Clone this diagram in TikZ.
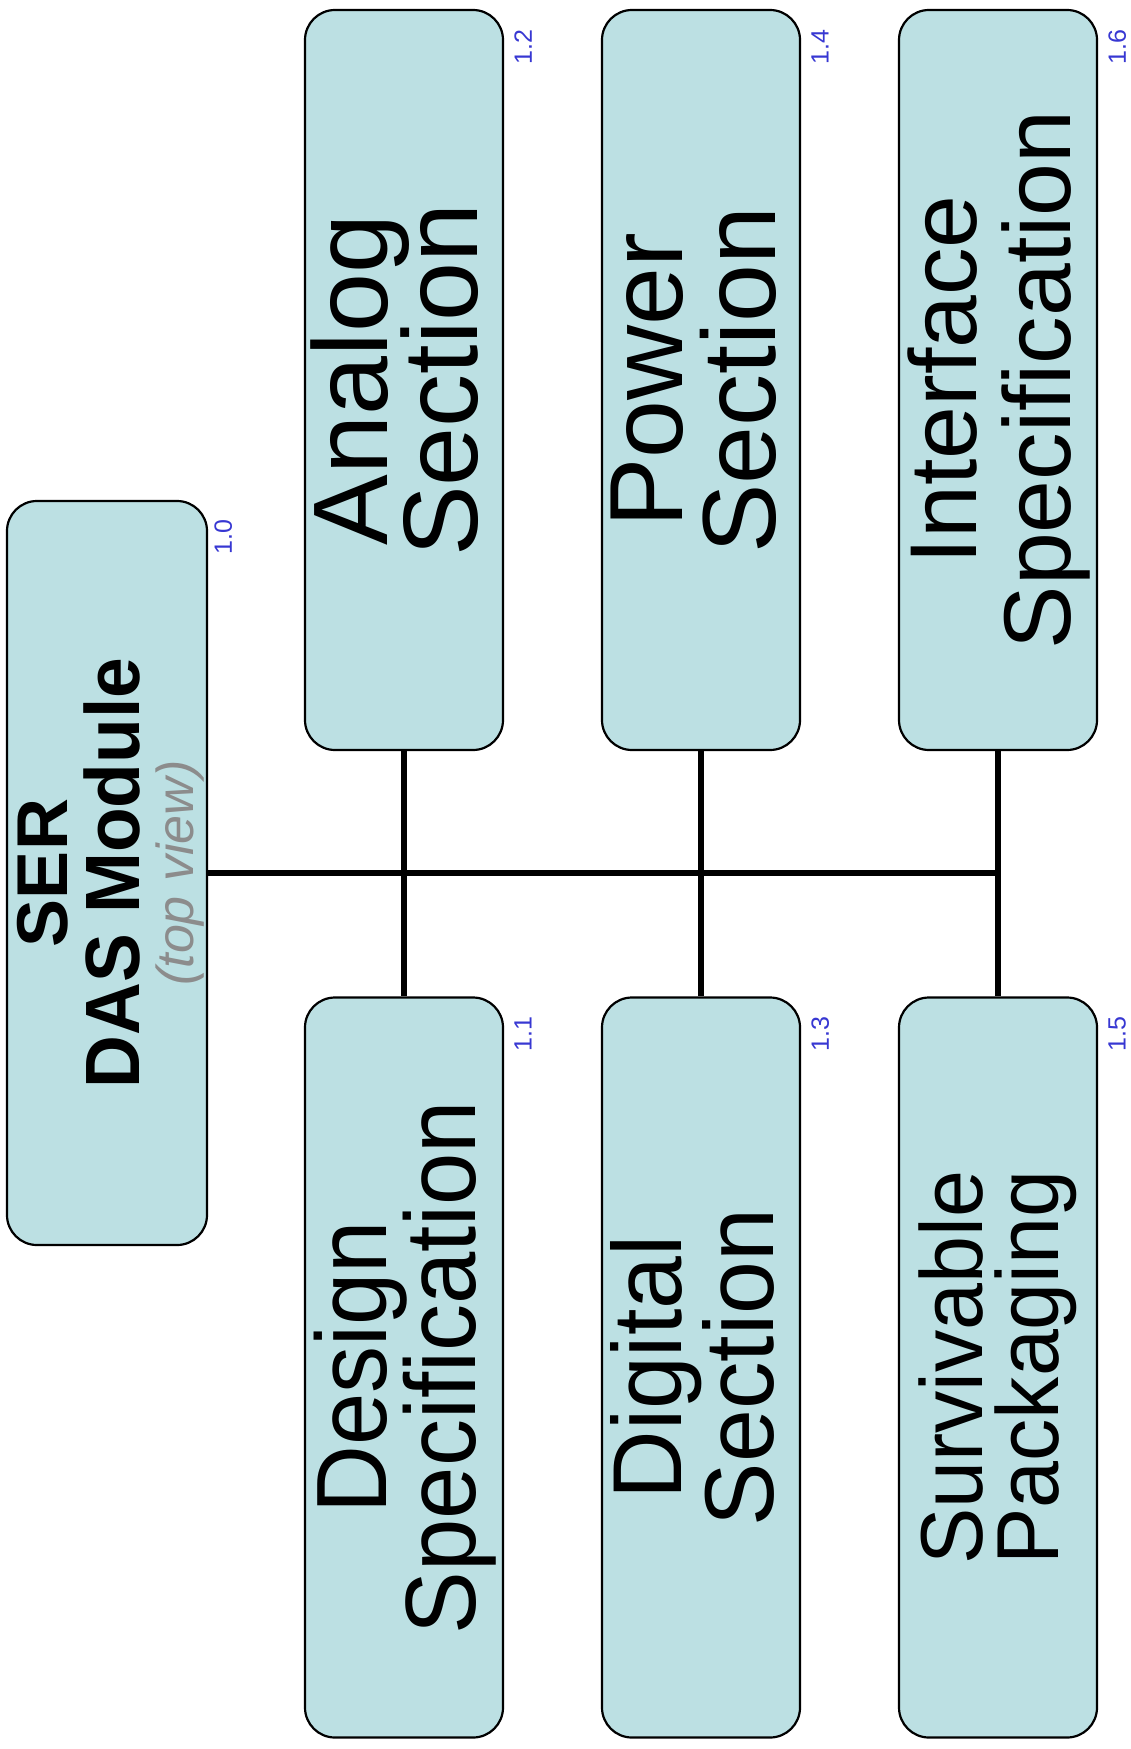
\documentclass[tikz,border=0pt]{standalone}
\usepackage{fontspec}
\setmainfont{Liberation Sans}
\usetikzlibrary{calc}
\definecolor{boxfill}{RGB}{188,224,227}
\definecolor{numblue}{RGB}{55,55,210}
\definecolor{viewgray}{RGB}{140,140,140}
\newcommand{\ctrline}[1]{\hbox to \hsize{\hss#1\hss}}
% #1 font size (pt), #2 line pitch (pt), #3 squeeze along the text, #4 first line, #5 second line
\newcommand{\boxtext}[5]{%
  \rotatebox{90}{\scalebox{#3}[1]{\vbox{\hsize=330pt\fontsize{#1}{#2}\selectfont
    \lineskiplimit=-1000pt\lineskip=0pt
    \ctrline{\rule{0pt}{0.716\dimexpr #1pt\relax}\smash{#4}}
    \ctrline{\smash{#5}\rule[-9pt]{0pt}{9pt}}}}}}
\newcommand{\roottext}{%
  \rotatebox{90}{\vbox{\hsize=330pt\baselineskip=36pt
    \lineskiplimit=-1000pt\lineskip=0pt
    \ctrline{\rule{0pt}{25.8pt}\smash{\fontsize{36}{36}\selectfont\bfseries SER}}
    \ctrline{\smash{\scalebox{0.95}[1]{\fontsize{38.5}{36}\selectfont\bfseries DAS Module}}}
    \vskip -9pt
    \ctrline{\smash{\fontsize{26}{27}\selectfont\itshape\color{viewgray}(top view)}\rule[-1.8pt]{0pt}{1.8pt}}}}}
\begin{document}
\begin{tikzpicture}[x=0.5pt,y=-0.5pt,
  box/.style={draw=black,line width=1.1pt,fill=boxfill,rounded corners=15pt,
    minimum width=99pt,minimum height=370pt,inner sep=0pt},
  rootbox/.style={box,minimum width=100pt,minimum height=372pt},
  num/.style={text=numblue,font=\fontsize{12.5}{14}\selectfont,rotate=90,
    anchor=north east,inner sep=0pt},
  hline/.style={line width=3pt,draw=black},
  vline/.style={line width=2.7pt,draw=black}]
\useasboundingbox (0,0) rectangle (1130,1749);

% root
\node[rootbox] (n10) at (107,873) {\roottext};

% children
\node[box] (n12) at (404,380) {\boxtext{53}{45}{1}{Analog}{Section}};
\node[box] (n14) at (701,380) {\boxtext{52}{46.5}{1}{Power}{Section}};
\node[box] (n16) at (998,380) {\boxtext{47.5}{47}{1}{Interface}{Specification}};
\node[box] (n11) at (404,1367.5) {\boxtext{50}{44.5}{0.94}{Design}{Specification}};
\node[box] (n13) at (701,1367.5) {\boxtext{49}{46}{0.97}{Digital}{Section}};
\node[box] (n15) at (998,1367.5) {\boxtext{44}{38}{0.96}{Survivable}{Packaging}};

% numbers
\node[num] (l10) at ($(n10.north east)+(6,19)$) {1.0};
\node[num] (l12) at ($(n12.north east)+(10,20)$) {1.2};
\node[num] (l14) at ($(n14.north east)+(10,20)$) {1.4};
\node[num] (l16) at ($(n16.north east)+(10,20)$) {1.6};
\node[num] (l11) at ($(n11.north east)+(10,20)$) {1.1};
\node[num] (l13) at ($(n13.north east)+(10,20)$) {1.3};
\node[num] (l15) at ($(n15.north east)+(10,20)$) {1.5};

% connectors
\coordinate (bus) at ($(n16.south |- n10.east)+(3,0)$);
\draw[hline] (n10.east) -- (bus);
\draw[vline] (n12.south) -- (n11.north);
\draw[vline] (n14.south) -- (n13.north);
\draw[vline] (n16.south) -- (n15.north);
\end{tikzpicture}
\end{document}
